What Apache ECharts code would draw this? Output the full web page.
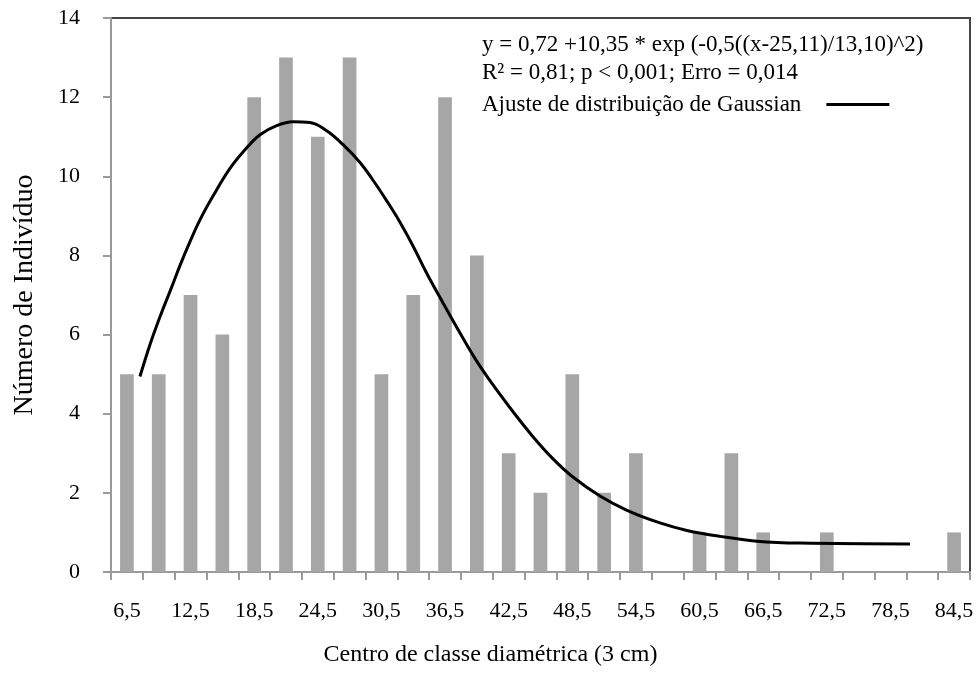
<!DOCTYPE html>
<html>
<head>
<meta charset="utf-8">
<script src="https://cdn.jsdelivr.net/npm/echarts@6/dist/echarts.min.js"></script>
<style>
  html, body { margin: 0; padding: 0; background: #fff; }
  #chart { width: 978px; height: 682px; }
</style>
</head>
<body>
<div id="chart"></div>
<script>
// centros de classe (3 cm)
var categories = ['6,5', '9,5', '12,5', '15,5', '18,5', '21,5', '24,5', '27,5', '30,5',
  '33,5', '36,5', '39,5', '42,5', '45,5', '48,5', '51,5', '54,5', '57,5', '60,5',
  '63,5', '66,5', '69,5', '72,5', '75,5', '78,5', '81,5', '84,5'];
// número de indivíduos por classe
var counts = [5, 5, 7, 6, 12, 13, 11, 13, 5, 7, 12, 8, 3, 2, 5, 2, 3, 0, 1, 3, 1, 0, 1, 0, 0, 0, 1];

// ajuste gaussiano
var curveX = [7.73, 8.68, 9.62, 10.72, 11.51, 12.45, 13.39, 14.62, 16.22, 17.8, 19.05, 20.62,
  22.16, 23.76, 25.34, 26.88, 28.48, 29.71, 31.0, 32.25, 33.48, 34.77, 36.31, 37.91, 39.48,
  41.37, 42.91, 44.79, 46.68, 48.56, 51.11, 53.66, 56.77, 59.31, 62.43, 65.91, 69.97, 80.34];
var curveY = [4.94, 5.75, 6.45, 7.2, 7.75, 8.35, 8.9, 9.5, 10.2, 10.72, 11.05, 11.28,
  11.38, 11.36, 11.15, 10.8, 10.35, 9.9, 9.38, 8.84, 8.24, 7.55, 6.8, 6.04, 5.33,
  4.6, 4.05, 3.42, 2.86, 2.4, 1.92, 1.56, 1.24, 1.05, 0.9, 0.78, 0.73, 0.71];

var eqLines = [
  'y = 0,72 +10,35 * exp (-0,5((x-25,11)/13,10)^2)',
  'R² = 0,81; p < 0,001; Erro = 0,014'
];
var fitName = 'Ajuste de distribuição de Gaussian';

var serif = "'Liberation Serif', 'Times New Roman', serif";

var curve = curveX.map(function (x, i) { return [x, curveY[i]]; });

var myechart = echarts.init(document.getElementById('chart'));

var option = {
  animation: false,
  textStyle: { fontFamily: serif, color: '#000' },
  grid: {
    left: 111,
    right: 8,
    top: 18,
    bottom: 110,
    outerBoundsMode: 'none',
    containLabel: false,
    show: true,
    borderColor: '#444',
    borderWidth: 2,
  },
  legend: {
    data: [fitName],
    left: 482,
    top: 93,
    padding: 0,
    align: 'right',
    icon: 'rect',
    itemWidth: 63,
    itemHeight: 3,
    textStyle: {
      fontFamily: serif,
      fontSize: 23,
      color: '#000',
      padding: [0, 20, 0, 0],
    },
  },
  graphic: eqLines.map(function (t, i) {
    return {
      type: 'text',
      left: 482,
      top: 33 + i * 28,
      style: {
        text: t,
        font: '23px ' + serif,
        fill: '#000',
      },
    };
  }),
  xAxis: [
    {
      type: 'category',
      data: categories,
      boundaryGap: true,
      name: 'Centro de classe diamétrica (3 cm)',
      nameLocation: 'middle',
      nameGap: 71,
      nameTextStyle: { fontFamily: serif, fontSize: 24, color: '#000', padding: [0, 100, 0, 0] },
      axisLine: { lineStyle: { color: '#9a9a9a', width: 2 } },
      axisTick: { show: true, interval: 0, length: 8, lineStyle: { color: '#9a9a9a', width: 2 } },
      axisLabel: {
        interval: 1,
        margin: 28,
        fontFamily: serif,
        fontSize: 22,
        color: '#000',
      },
      splitLine: { show: false },
    },
    {
      // eixo contínuo oculto para a curva ajustada
      type: 'value',
      min: 5,
      max: 86,
      show: false,
    },
  ],
  yAxis: [
    {
      type: 'value',
      min: 0,
      max: 14,
      interval: 2,
      name: 'Número de Indivíduo',
      nameLocation: 'middle',
      nameGap: 72,
      nameTextStyle: { fontFamily: serif, fontSize: 28, color: '#000' },
      axisLine: { show: true, lineStyle: { color: '#9a9a9a', width: 2 } },
      axisTick: { show: true, length: 8, lineStyle: { color: '#9a9a9a', width: 2 } },
      axisLabel: {
        margin: 31,
        fontFamily: serif,
        fontSize: 22,
        color: '#000',
      },
      splitLine: { show: false },
    },
  ],
  series: [
    {
      name: 'Indivíduos',
      type: 'bar',
      xAxisIndex: 0,
      yAxisIndex: 0,
      data: counts,
      barWidth: '43%',
      itemStyle: { color: '#a6a6a6' },
    },
    {
      name: fitName,
      type: 'line',
      xAxisIndex: 1,
      yAxisIndex: 0,
      data: curve,
      smooth: 0.4,
      showSymbol: false,
      lineStyle: { color: '#000', width: 3 },
      itemStyle: { color: '#000' },
      z: 5,
    },
  ],
};

myechart.setOption(option);
window.addEventListener('resize', function () {
  myechart.resize();
});
</script>
</body>
</html>
